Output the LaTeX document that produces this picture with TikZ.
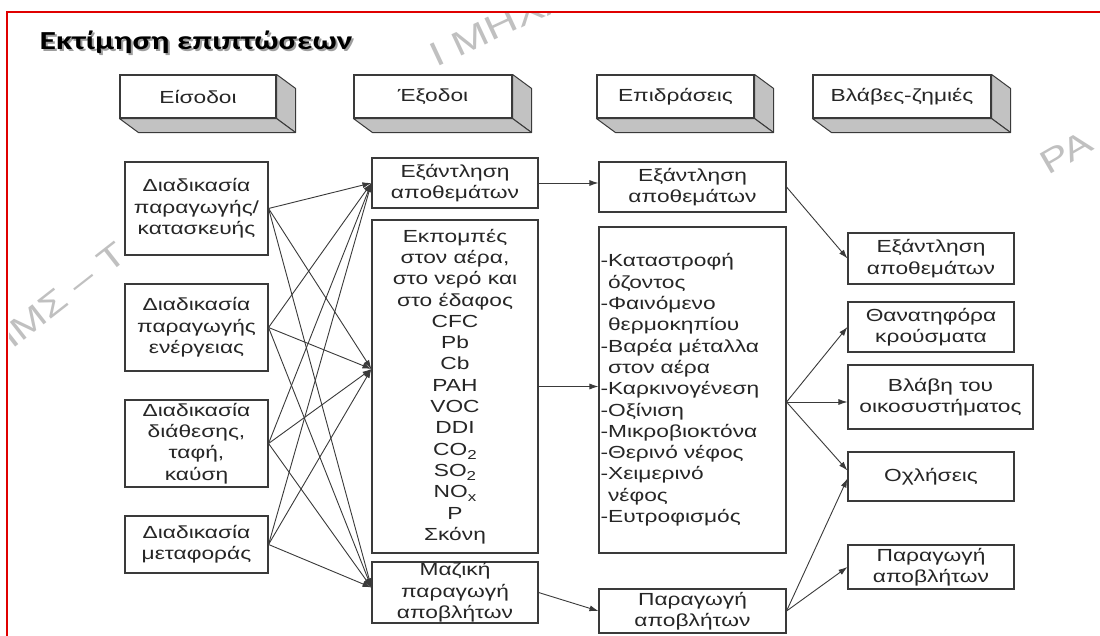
\documentclass[tikz,border=0pt]{standalone}
\usepackage{fontspec}
\usetikzlibrary{arrows.meta}
\newfontfamily\bodyfont[FakeStretch=1.3]{Liberation Sans}
\newfontfamily\titlefont[FakeStretch=1.3]{Carlito}
\newfontfamily\wmfont[FakeStretch=1.3]{Liberation Sans}
\newcommand\chemsub[1]{\raisebox{-0.45ex}{\fontsize{13}{13}\selectfont #1}}
\definecolor{framered}{HTML}{E00000}
\definecolor{ink}{HTML}{3A3A3A}
\definecolor{sideface}{HTML}{C2C2C2}
\definecolor{wmgray}{HTML}{C0C0C0}

\begin{document}
\begin{tikzpicture}[x=1pt,y=-1pt,
  box/.style={draw=ink, line width=1.1pt, fill=white, inner sep=0pt, align=center,
    text=black!85, font=\bodyfont\fontsize{17.5}{21.3}\selectfont},
  hdr/.style={box, minimum height=43pt},
  face/.style={fill=sideface, draw=ink, line width=1pt, line join=round},
  arr/.style={draw=ink, line width=0.9pt, -{Latex[length=9pt,width=6pt]}},
  wm/.style={text=wmgray, font=\wmfont\fontsize{33}{33}\selectfont, inner sep=0pt},
]
\useasboundingbox (0,0) rectangle (1100,636);
\fill[white] (0,0) rectangle (1100,636);
\clip (0,0) rectangle (1100,636);

% faint watermark fragments inside the frame
\begin{scope}
  \clip (9,14) rectangle (1100,636);
  \node[wm, rotate=38, anchor=base west] (wmleft) at (12,350) {ΙΜΣ – Τ};
  \node[wm, rotate=25, anchor=base west, font=\wmfont\fontsize{34}{34}\selectfont] (wmtop) at (436,68) {Ι ΜΗΧΑ};
  \node[wm, rotate=30, anchor=base west] (wmright) at (1048,176) {ΡΑ};
\end{scope}

% red frame
\draw[framered, line width=2.6pt] (7,12) rectangle (1130,660);

% title with its shadow
\node[anchor=base west, text=black!38, font=\titlefont\bfseries\fontsize{26}{30}\selectfont]
  (titleshadow) at (38,52) {Εκτίμηση επιπτώσεων};
\node[anchor=base west, font=\titlefont\bfseries\fontsize{26}{30}\selectfont]
  (title) at (36,50) {Εκτίμηση επιπτώσεων};

% column headers drawn as 3D bars
\foreach \n/\cx/\w/\t in {H1/198/156/Είσοδοι, H2/433/158/Έξοδοι, H3/675.5/157/Επιδράσεις, H4/902/178/Βλάβες-ζημιές}{
  \node[hdr, minimum width=\w pt] (\n) at (\cx,96.5) {\t};
  \filldraw[face] (\n.north east) -- ([shift={(19,14)}]\n.north east)
    -- ([shift={(19,14)}]\n.south east) -- (\n.south east) -- cycle;
  \filldraw[face] (\n.south west) -- (\n.south east)
    -- ([shift={(19,14)}]\n.south east) -- ([shift={(19,14)}]\n.south west) -- cycle;
}

% processes
\node[box, minimum width=143pt, minimum height=93pt] (L1) at (196.5,208.5) {Διαδικασία\\παραγωγής/\\κατασκευής};
\node[box, minimum width=143pt, minimum height=87pt] (L2) at (196.5,327.5) {Διαδικασία\\παραγωγής\\ενέργειας};
\node[box, minimum width=143pt, minimum height=87pt] (L3) at (196.5,443.5) {Διαδικασία\\διάθεσης,\\ταφή,\\καύση};
\node[box, minimum width=143pt, minimum height=57pt] (L4) at (196.5,544.5) {Διαδικασία\\μεταφοράς};

% outputs
\node[box, minimum width=166pt, minimum height=50pt] (M1) at (455,183) {Εξάντληση\\αποθεμάτων};
\node[box, minimum width=166pt, minimum height=333pt] (M2) at (455,386.5)
  {Εκπομπές\\στον αέρα,\\στο νερό και\\στο έδαφος\\CFC\\Pb\\Cb\\PAH\\VOC\\DDI\\CO\chemsub{2}\\SO\chemsub{2}\\NO\chemsub{x}\\P\\Σκόνη};
\node[box, minimum width=166pt, minimum height=61pt] (M3) at (455,592.5) {Μαζική\\παραγωγή\\αποβλήτων};

% effects
\node[box, minimum width=187pt, minimum height=50pt] (R1) at (692.5,187) {Εξάντληση\\αποθεμάτων};
\node[box, minimum width=187pt, minimum height=326pt, text width=184pt, align=left] (R2) at (692.5,390)
  {-Καταστροφή\\\phantom{-}όζοντος\\-Φαινόμενο\\\phantom{-}θερμοκηπίου\\-Βαρέα μέταλλα\\\phantom{-}στον αέρα\\-Καρκινογένεση\\-Οξίνιση\\-Μικροβιοκτόνα\\-Θερινό νέφος\\-Χειμερινό\\\phantom{-}νέφος\\-Ευτροφισμός};
\node[box, minimum width=187pt, minimum height=44pt] (R3) at (692.5,611) {Παραγωγή\\αποβλήτων};

% damages
\node[box, minimum width=166pt, minimum height=51pt] (F1) at (931,258.5) {Εξάντληση\\αποθεμάτων};
\node[box, minimum width=166pt, minimum height=50pt] (F2) at (931,327) {Θανατηφόρα\\κρούσματα};
\node[box, minimum width=185pt, minimum height=64pt] (F3) at (940.5,397) {Βλάβη του\\οικοσυστήματος};
\node[box, minimum width=166pt, minimum height=49pt] (F4) at (931,476.5) {Οχλήσεις};
\node[box, minimum width=166pt, minimum height=44pt] (F5) at (931,567) {Παραγωγή\\αποβλήτων};

% entry and exit points on the long boxes
\coordinate (m2in) at ([yshift=17.5pt]M2.west);
\coordinate (m3in) at ([yshift=5pt]M3.west);
\coordinate (r2out) at ([yshift=-12pt]R2.east);
\coordinate (f4a) at ([yshift=6pt]F4.west);
\coordinate (f4b) at ([yshift=-2pt]F4.west);

% every process feeds every output
\foreach \s in {L1,L2,L3,L4}{
  \draw[arr] (\s.east) -- (M1.west);
  \draw[arr] (\s.east) -- (m2in);
  \draw[arr] (\s.east) -- (m3in);
}

% outputs to effects
\draw[arr] (M1.east) -- (M1.east -| R1.west);
\draw[arr] (M2.east) -- (M2.east -| R2.west);
\draw[arr] (M3.east) -- (R3.west);

% effects to damages
\draw[arr] (R1.east) -- (F1.west);
\draw[arr] (r2out) -- (F2.west);
\draw[arr] (r2out) -- (r2out -| F3.west);
\draw[arr] (r2out) -- (f4a);
\draw[arr] (R3.east) -- (f4b);
\draw[arr] (R3.east) -- (F5.west);
\end{tikzpicture}
\end{document}
